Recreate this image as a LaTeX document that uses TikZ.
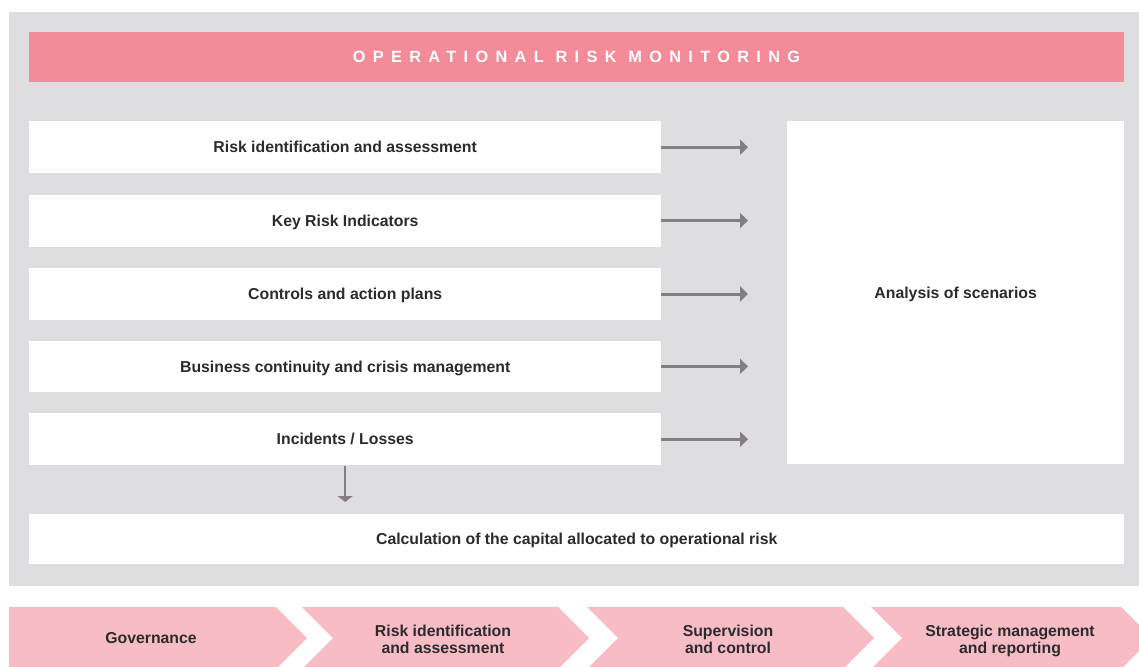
\documentclass[tikz,border=0pt]{standalone}
\usepackage{fontspec}
\setmainfont{Liberation Sans}
\usetikzlibrary{arrows.meta, positioning}
\definecolor{cinza}{RGB}{222, 222, 224}
\definecolor{rosa}{RGB}{244, 139, 152}
\definecolor{rosaclaro}{RGB}{248, 189, 196}
\definecolor{cinzaseta}{RGB}{132, 125, 129}
\definecolor{texto}{RGB}{43, 43, 43}

\begin{document}
\begin{tikzpicture}[
    x=1pt, y=-1pt,
    caixa/.style={
        fill=white,
        inner sep=0pt,
        minimum width=632pt,
        minimum height=52pt,
        text height=11.3pt,
        text depth=0pt,
        font=\bfseries\fontsize{15.8}{17}\selectfont,
        text=texto,
        align=center
    },
    titulo/.style={
        fill=rosa,
        inner sep=0pt,
        minimum width=1095pt,
        minimum height=50pt,
        text=white,
        font=\bfseries\fontsize{16.3}{18}\selectfont\addfontfeatures{LetterSpace=45}
    },
    etapa/.style={
        font=\bfseries\fontsize{15.8}{17}\selectfont,
        text=texto,
        align=center
    },
    seta/.style={
        -{Triangle[length=8pt,width=15pt]},
        line width=3pt,
        draw=cinzaseta
    },
    setabaixo/.style={
        -{Triangle[length=6pt,width=15pt]},
        line width=2.2pt,
        draw=cinzaseta
    }
]

\clip (0,0) rectangle (1139,666);

% fundo cinza
\fill[cinza] (9,12) rectangle (1139,586);

\node[titulo] (titulo) at (576.5,57)
{OPERATIONAL RISK MONITORING};

\node[caixa, anchor=north west] (ident) at (29,121)
{Risk identification and assessment};

\node[caixa, below=21pt of ident] (kri)
{Key Risk Indicators};

\node[caixa, below=21pt of kri] (controles)
{Controls and action plans};

\node[caixa, below=20.5pt of controles, minimum height=51pt] (continuidade)
{Business continuity and crisis management};

\node[caixa, below=21pt of continuidade] (incidentes)
{Incidents / Losses};

\node[caixa, anchor=north west, minimum width=337pt, minimum height=343pt] (cenarios) at (787,121)
{Analysis of scenarios};

\node[caixa, anchor=north west, minimum width=1095pt, minimum height=50pt] (capital) at (29,514)
{Calculation of the capital allocated to operational risk};

\draw[seta, shorten >=39pt] (ident.east) -- (ident.east -| cenarios.west);
\draw[seta, shorten >=39pt] (kri.east) -- (kri.east -| cenarios.west);
\draw[seta, shorten >=39pt] (controles.east) -- (controles.east -| cenarios.west);
\draw[seta, shorten >=39pt] (continuidade.east) -- (continuidade.east -| cenarios.west);
\draw[seta, shorten >=39pt] (incidentes.east) -- (incidentes.east -| cenarios.west);

\draw[setabaixo, shorten >=12pt] (incidentes.south) -- (incidentes.south |- capital.north);

% faixa de etapas
\fill[rosaclaro] (9,607) -- (276,607) -- (307,638) -- (276,669) -- (9,669) -- cycle;
\fill[rosaclaro] (302,607) -- (558,607) -- (589,638) -- (558,669) -- (302,669) -- (333,638) -- cycle;
\fill[rosaclaro] (587,607) -- (843,607) -- (874,638) -- (843,669) -- (587,669) -- (618,638) -- cycle;
\fill[rosaclaro] (871,607) -- (1121,607) -- (1152,638) -- (1121,669) -- (871,669) -- (902,638) -- cycle;

\node[etapa] (governanca) at (151,638) {Governance};
\node[etapa] (identificacao) at (443,639) {Risk identification\\and assessment};
\node[etapa] (supervisao) at (728,639) {Supervision\\and control};
\node[etapa] (estrategia) at (1010,641) {Strategic management\\and reporting};

\end{tikzpicture}
\end{document}
